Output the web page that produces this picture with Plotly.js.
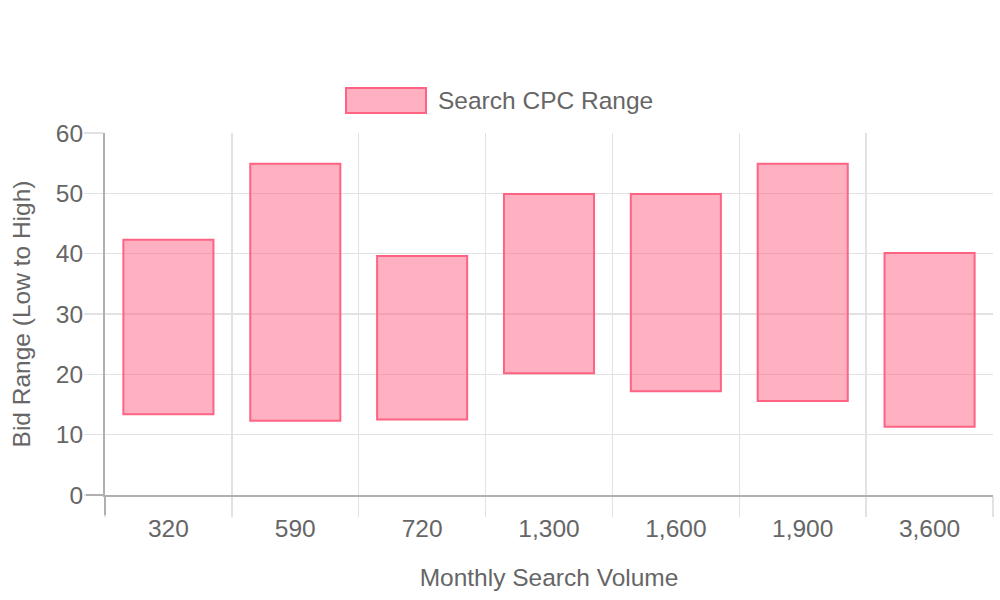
<!DOCTYPE html>
<html>
<head>
<meta charset="utf-8">
<script src="https://cdn.plot.ly/plotly-3.0.1.min.js"></script>
<style>html,body{margin:0;padding:0;background:#fff;}#chart{width:1000px;height:600px;}</style>
</head>
<body>
<div id="chart"></div>
<script>
const categories = ["320", "590", "720", "1,300", "1,600", "1,900", "3,600"];
const lowBid = [13.4, 12.3, 12.5, 20.2, 17.2, 15.6, 11.3];
const highBid = [42.3, 54.9, 39.6, 49.9, 49.9, 54.9, 40.1];
const seriesName = "Search CPC Range";
const yTickVals = [0, 10, 20, 30, 40, 50, 60];

const FONT = "Liberation Sans, Arial, Helvetica, sans-serif";
const TXT = "#666666";
const FILL = "rgba(255,99,132,0.5)";
const LINE = "rgb(255,99,132)";
const GRID = "#e2e2e2";
const FS = 24.5;

const trace = {
  type: "bar",
  name: seriesName,
  x: categories,
  base: lowBid,
  y: highBid.map((h, i) => h - lowBid[i]),
  width: 0.71,
  marker: { color: FILL, line: { color: LINE, width: 2 } },
  hoverinfo: "skip",
  showlegend: false
};

const layout = {
  width: 1000, height: 600,
  margin: { l: 105, r: 7, t: 133, b: 105 },
  paper_bgcolor: "#fff", plot_bgcolor: "#fff",
  font: { family: FONT, color: TXT, size: FS },
  showlegend: false,
  xaxis: {
    type: "category",
    showgrid: true, gridcolor: GRID, gridwidth: 1.5,
    tickson: "boundaries",
    ticks: "outside", ticklen: 20, tickcolor: GRID, tickwidth: 1.5,
    showline: true, linecolor: "#b0b0b0", linewidth: 2,
    tickfont: { size: FS, color: TXT, family: FONT },
    ticklabelstandoff: 11,
    title: { text: "Monthly Search Volume", font: { size: FS, color: TXT, family: FONT }, standoff: 27 },
    automargin: false
  },
  yaxis: {
    range: [0, 60],
    tickvals: yTickVals,
    showgrid: true, gridcolor: GRID, gridwidth: 1.5,
    zeroline: false,
    ticks: "outside", ticklen: 19, tickcolor: GRID, tickwidth: 1.5,
    showline: true, linecolor: "#b0b0b0", linewidth: 2,
    tickfont: { size: FS, color: TXT, family: FONT },
    ticklabelstandoff: -4,
    title: { text: "Bid Range (Low to High)", font: { size: FS, color: TXT, family: FONT }, standoff: 18 },
    automargin: false
  },
  shapes: [
    { type: "rect", xref: "paper", yref: "paper", x0: (346 - 105) / 888, x1: (426 - 105) / 888,
      y0: (495 - 113) / 362, y1: (495 - 88) / 362,
      fillcolor: FILL, line: { color: LINE, width: 2 } },
    { type: "line", xref: "paper", yref: "paper", x0: 0, x1: 0, y0: 0, y1: -20 / 362,
      line: { color: "#b0b0b0", width: 2 } },
    { type: "line", xref: "paper", yref: "paper", x0: 0, x1: -19 / 888, y0: 0, y1: 0,
      line: { color: "#b0b0b0", width: 2 } }
  ],
  annotations: [
    { xref: "paper", yref: "paper", x: (436 - 105) / 888, y: (495 - 100) / 362,
      xanchor: "left", yanchor: "middle", showarrow: false, text: seriesName,
      font: { size: FS, color: TXT, family: FONT } }
  ]
};

Plotly.newPlot("chart", [trace], layout, { displayModeBar: false, staticPlot: true });
</script>
</body>
</html>
